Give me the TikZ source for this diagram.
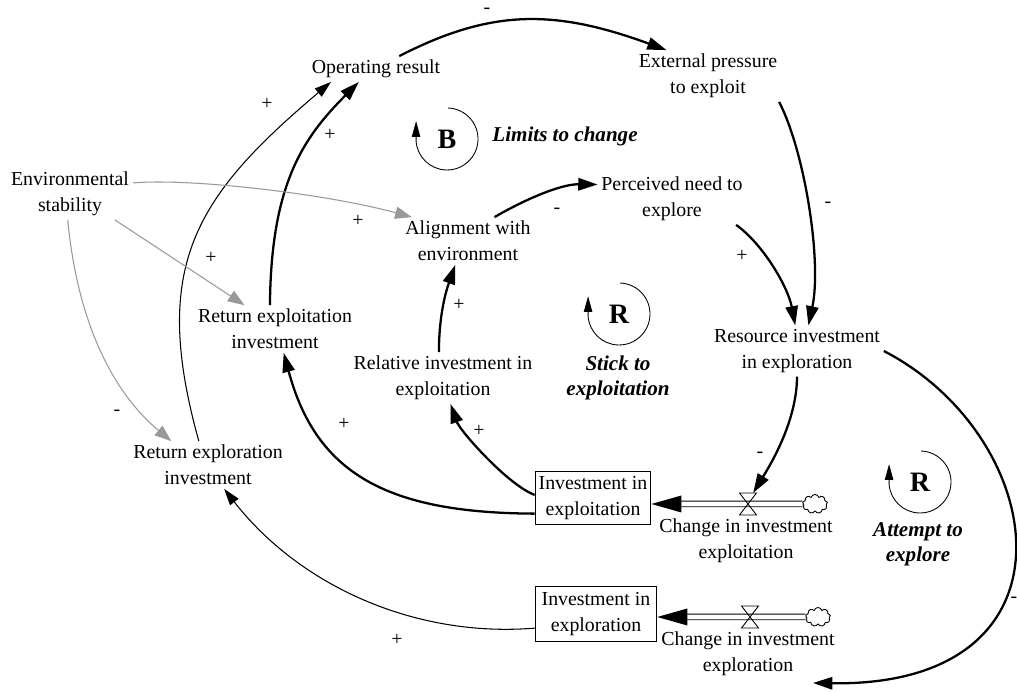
\documentclass[tikz,border=0pt]{standalone}
\usepackage{fontspec}
\setmainfont{Liberation Serif}
\usetikzlibrary{arrows.meta,calc,shapes.symbols}

\begin{document}
\begin{tikzpicture}[x=0.02cm, y=0.02cm,
    font=\fontsize{11.3}{14.8}\selectfont,
    var/.style={align=center, inner sep=2pt},
    stock/.style={draw, line width=0.6pt, align=center, inner sep=2pt},
    link/.style={line width=1.3pt, -{Triangle[length=11pt,width=7pt]}},
    thinlink/.style={line width=0.6pt, -{Triangle[length=9.5pt,width=6pt]}},
    envlink/.style={line width=0.6pt, black!40, -{Triangle[length=9.5pt,width=7pt]}},
    pipe/.style={double, double distance=2.6pt, line width=0.55pt},
    valve/.style={minimum width=0.34cm, minimum height=0.44cm, inner sep=0pt, outer sep=0pt},
    source/.style={cloud, draw, cloud puffs=9, aspect=1.3, line width=0.5pt,
                   minimum width=0.5cm, minimum height=0.38cm, inner sep=0pt},
    sign/.style={inner sep=0pt},
    loopsym/.style={font=\fontsize{16}{18}\selectfont\bfseries},
    loopname/.style={align=center, font=\fontsize{12}{14.2}\selectfont\bfseries\itshape},
    loopline/.style={line width=0.5pt, -{Triangle[length=9pt,width=4.8pt]}}]

    \useasboundingbox (0,0) rectangle (1017,692);

    % Variables
    \node[var] (oper) at (376,623) {Operating result};
    \node[var] (press) at (708,616) {External pressure\\to exploit};
    \node[var] (env) at (70,498) {Environmental\\stability};
    \node[var] (align) at (468,451) {Alignment with\\environment};
    \node[var] (need) at (672,493) {Perceived need to\\explore};
    \node[var] (retexploit) at (275,363) {Return exploitation\\investment};
    \node[var] (relinv) at (443,314) {Relative investment in\\exploitation};
    \node[var] (resinv) at (797,341) {Resource investment\\in exploration};
    \node[var] (retexplore) at (208,227) {Return exploration\\investment};

    % Stocks and flows
    \node[stock, minimum width=2.26cm, minimum height=1.07cm] (invexploit) at (593,194) {Investment in\\exploitation};
    \node[stock, minimum width=2.43cm, minimum height=1.11cm] (invexplore) at (596,78) {Investment in\\exploration};

    \node[valve] (valve1) at (748,188) {};
    \node[source] (cloud1) at (815,188) {};
    \node[var] (lblexploit) at (746,151) {Change in investment\\exploitation};
    \draw[pipe] (cloud1.west) -- ($(invexploit.east |- valve1)+(20,0)$);
    \fill (invexploit.east |- valve1) -- ++(30,8.5) -- ++(0,-17) -- cycle;
    \draw[line width=0.5pt] (valve1.north west) -- (valve1.north east) -- (valve1.south west) -- (valve1.south east) -- cycle;

    \node[valve] (valve2) at (750,75) {};
    \node[source] (cloud2) at (818,75) {};
    \node[var] (lblexplore) at (748,38) {Change in investment\\exploration};
    \draw[pipe] (cloud2.west) -- ($(invexplore.east |- valve2)+(20,0)$);
    \fill (invexplore.east |- valve2) -- ++(30,8.5) -- ++(0,-17) -- cycle;
    \draw[line width=0.5pt] (valve2.north west) -- (valve2.north east) -- (valve2.south west) -- (valve2.south east) -- cycle;
    \coordinate (lbltip) at (813,9);

    % Loops
    \node[loopsym] (loopB) at (447,553) {B};
    \node[loopname] (nameB) at (565,556) {Limits to change};
    \node[loopsym] (loopR1) at (619,378) {R};
    \node[loopname] (nameR1) at (618,314) {Stick to\\exploitation};
    \node[loopsym] (loopR2) at (920,210) {R};
    \node[loopname] (nameR2) at (918,148) {Attempt to\\explore};
    \foreach \l in {loopB,loopR1,loopR2}
        \draw[loopline] ($(\l)+(88:31)$) arc[start angle=88, end angle=-176, radius=31] -- ++(0,20);

    % Causal links
    \draw[link] (oper.29) .. controls (491,683) and (554,683) .. (press.148);
    \draw[link] (press.-20) .. controls (805,540) and (822,430) .. (resinv.66);
    \draw[link] (need.-22) .. controls (763,448) and (788,405) .. (resinv.94);
    \draw[link] (align.42) .. controls (522,491) and (560,508) .. (need.169);
    \draw[link] (relinv.99) .. controls (439,375) and (445,398) .. (align.-118);
    \draw[link] (invexploit.177) .. controls (508,207) and (460,261) .. (relinv.-74);
    \draw[link] (invexploit.195) .. controls (386,179) and (316,219) .. (retexploit.-70);
    \draw[link] (retexploit.102) .. controls (271,508) and (303,554) .. (oper.-143);
    \draw[thinlink] (retexplore.111) .. controls (150,426) and (195,495) .. (oper.-164);
    \draw[thinlink] (invexplore.193) .. controls (414,54) and (299,107) .. (retexplore.-56);
    \draw[link] (resinv.-90) .. controls (797,270) and (769,225) .. (valve1.65);
    \draw[link] (resinv.east) .. controls (1050,255) and (1088,5) .. (lbltip);

    % Environment links
    \draw[envlink] (env.10) .. controls (192,514) and (327,498) .. (align.157);
    \draw[envlink] (env.-30) -- (retexploit.142);
    \draw[envlink] (env.-95) .. controls (78,364) and (116,297) .. (retexplore.147);

    % Polarities
    \node[sign] (sg1) at (487,681) {-};
    \node[sign] (sg2) at (267,588) {+};
    \node[sign] (sg3) at (330,557) {+};
    \node[sign] (sg4) at (358,471) {+};
    \node[sign] (sg5) at (211,434) {+};
    \node[sign] (sg6) at (117,279) {-};
    \node[sign] (sg7) at (557,481) {-};
    \node[sign] (sg8) at (828,487) {-};
    \node[sign] (sg9) at (742,436) {+};
    \node[sign] (sg10) at (459,387) {+};
    \node[sign] (sg11) at (344,268) {+};
    \node[sign] (sg12) at (479,261) {+};
    \node[sign] (sg13) at (760,237) {-};
    \node[sign] (sg14) at (397,52) {+};
    \node[sign] (sg15) at (1014,92) {-};
\end{tikzpicture}
\end{document}
